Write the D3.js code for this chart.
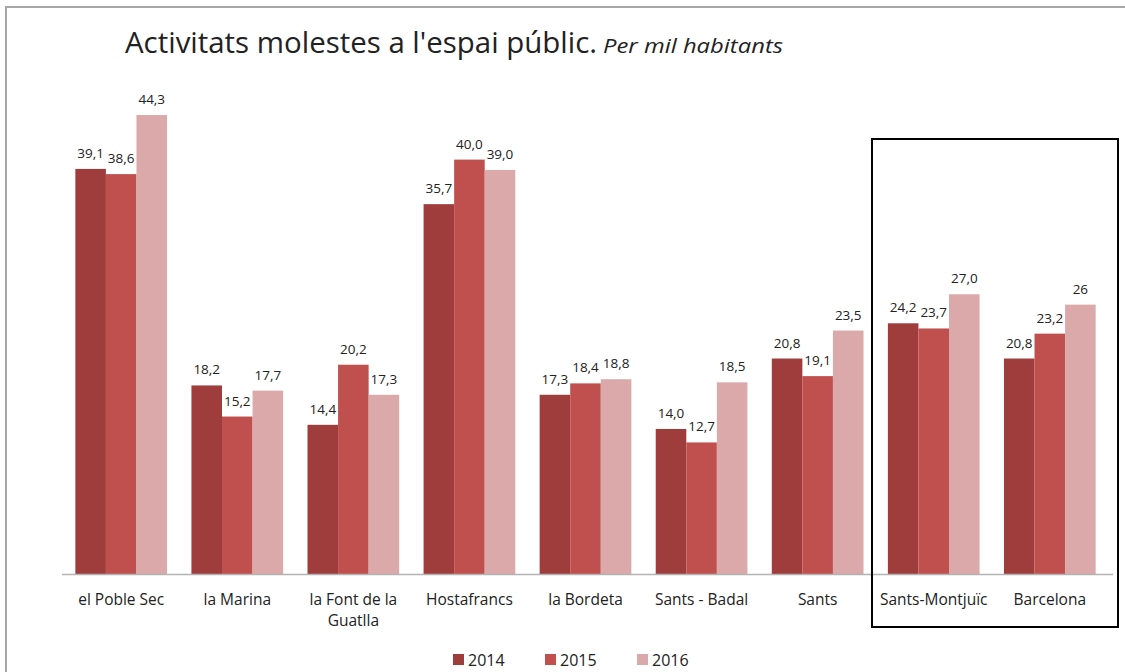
<!DOCTYPE html>
<html>
<head>
<meta charset="utf-8">
<script src="https://cdn.jsdelivr.net/npm/d3@7"></script>
<style>
  body { margin: 0; background: #fff; }
  text { font-family: "Open Sans", "Noto Sans", sans-serif; fill: #222; }
</style>
</head>
<body>
<svg id="chart" width="1125" height="672"></svg>
<script>
// data
var categories = ["el Poble Sec", "la Marina", "la Font de la|Guatlla", "Hostafrancs", "la Bordeta",
                  "Sants - Badal", "Sants", "Sants-Montjuïc", "Barcelona"];
var years = ["2014", "2015", "2016"];
var values2014 = [39.1, 18.2, 14.4, 35.7, 17.3, 14.0, 20.8, 24.2, 20.8];
var values2015 = [38.6, 15.2, 20.2, 40.0, 18.4, 12.7, 19.1, 23.7, 23.2];
var values2016 = [44.3, 17.7, 17.3, 39.0, 18.8, 18.5, 23.5, 27.0, 26];
// Barcelona 2016 is shown without decimals in the original
var integerLabels = [{ cat: "Barcelona", year: "2016" }];

var colors = ["#9e3d3c", "#c0504d", "#dba9a9"];

var svg = d3.select("#chart"),
    width = +svg.attr("width"),
    height = +svg.attr("height");

// outer frame of the chart area
svg.append("path")
    .attr("d", "M6,672 L6,7 L1125,7")
    .attr("fill", "none")
    .attr("stroke", "#a6a6a6")
    .attr("stroke-width", 2);

// title
var title = svg.append("text")
    .attr("x", 125)
    .attr("y", 53);
title.append("tspan")
    .attr("font-size", 30)
    .attr("textLength", 472)
    .attr("lengthAdjust", "spacingAndGlyphs")
    .text("Activitats molestes a l'espai públic.");
title.append("tspan")
    .attr("font-size", 20)
    .attr("font-style", "italic")
    .attr("dx", 6)
    .attr("textLength", 180)
    .attr("lengthAdjust", "spacingAndGlyphs")
    .text("Per mil habitants");

var x0 = d3.scaleBand()
    .domain(categories)
    .range([62, 1109])
    .paddingInner(0.21)
    .paddingOuter(0.115);

var x1 = d3.scaleBand()
    .domain(years)
    .range([0, x0.bandwidth()]);

var y = d3.scaleLinear()
    .domain([0, 50])
    .range([574, 56]);

var rows = categories.map(function(c, i) {
    return { cat: c, vals: [values2014[i], values2015[i], values2016[i]] };
});

var fmt = function(cat, year, v) {
    var isInt = integerLabels.some(function(d) { return d.cat === cat && d.year === year; });
    return isInt ? d3.format(".0f")(v) : d3.format(".1f")(v).replace(".", ",");
};

var group = svg.selectAll(".grp")
    .data(rows)
    .enter().append("g")
    .attr("class", "grp")
    .attr("transform", function(d) { return "translate(" + x0(d.cat) + ",0)"; });

var bar = group.selectAll(".bar")
    .data(function(d) {
        return years.map(function(yr, j) { return { cat: d.cat, year: yr, v: d.vals[j], j: j }; });
    })
    .enter();

bar.append("rect")
    .attr("x", function(d) { return x1(d.year); })
    .attr("y", function(d) { return y(d.v); })
    .attr("width", x1.bandwidth())
    .attr("height", function(d) { return y(0) - y(d.v); })
    .attr("fill", function(d) { return colors[d.j]; });

bar.append("text")
    .attr("x", function(d) { return x1(d.year) + x1.bandwidth() / 2; })
    .attr("y", function(d) { return y(d.v) - 11; })
    .attr("text-anchor", "middle")
    .attr("font-size", 13.5)
    .text(function(d) { return fmt(d.cat, d.year, d.v); });

// x axis line
svg.append("line")
    .attr("x1", 62).attr("x2", 1113)
    .attr("y1", y(0) + 0.5).attr("y2", y(0) + 0.5)
    .attr("stroke", "#b3b3b3")
    .attr("stroke-width", 1.5);

// category labels
var catLabel = svg.selectAll(".cat")
    .data(categories)
    .enter().append("text")
    .attr("class", "cat")
    .attr("text-anchor", "middle")
    .attr("font-size", 15.5)
    .attr("y", 605);

catLabel.each(function(c) {
    var lines = c.split("|");
    var t = d3.select(this);
    lines.forEach(function(line, k) {
        t.append("tspan")
            .attr("x", x0(c) + x0.bandwidth() / 2)
            .attr("dy", k === 0 ? 0 : 21)
            .text(line);
    });
});

// highlight frame
svg.append("rect")
    .attr("x", 872)
    .attr("y", 139)
    .attr("width", 246)
    .attr("height", 488)
    .attr("fill", "none")
    .attr("stroke", "#000")
    .attr("stroke-width", 2);

// legend
var legendX = d3.scalePoint()
    .domain(years)
    .range([453, 637]);

var leg = svg.selectAll(".leg")
    .data(years)
    .enter().append("g")
    .attr("class", "leg")
    .attr("transform", function(d) { return "translate(" + legendX(d) + ",654)"; });

leg.append("rect")
    .attr("width", 11)
    .attr("height", 11)
    .attr("fill", function(d, i) { return colors[i]; });

leg.append("text")
    .attr("x", 15)
    .attr("y", 11.5)
    .attr("font-size", 16)
    .text(function(d) { return d; });
</script>
</body>
</html>
